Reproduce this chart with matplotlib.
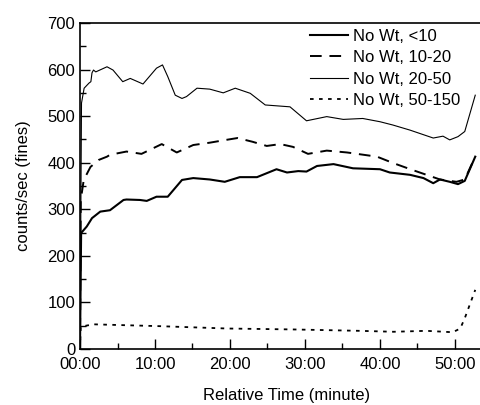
import matplotlib.pyplot as plt
from matplotlib.ticker import MultipleLocator, FuncFormatter

plt.rcParams["font.family"] = ["Liberation Sans", "DejaVu Sans"]

# time in minutes, counts/sec
t_lt10 = [0, 0.15, 0.9, 1.6, 2.7, 4.0, 5.8, 6.2, 8.0, 8.9, 10.2, 11.7, 13.6, 15.1, 17.3,
          19.3, 21.3, 23.6, 26.2, 27.6, 29.1, 30.2, 31.6, 33.8, 36.4, 40.0, 41.3, 44.0,
          45.8, 47.1, 48.0, 49.3, 50.4, 51.3, 52.7]
v_lt10 = [0, 249, 263, 281, 295, 298, 320, 321, 320, 318, 327, 327, 363, 367, 364,
          359, 369, 369, 386, 379, 382, 381, 393, 397, 388, 386, 379, 374,
          367, 356, 364, 359, 354, 361, 413]

t_10_20 = [0, 0.1, 0.5, 1.4, 2.5, 3.6, 4.0, 6.2, 8.2, 10.9, 12.9, 15.1, 17.3, 19.1, 21.0,
           23.0, 24.9, 26.7, 28.4, 30.4, 32.9, 35.6, 39.6, 41.8, 44.4, 46.2, 48.0, 50.2,
           51.3, 52.7]
v_10_20 = [0, 320, 363, 391, 406, 413, 417, 424, 419, 440, 422, 438, 443, 448, 453,
           445, 436, 440, 434, 419, 426, 422, 413, 399, 384, 374, 364, 359,
           364, 413]

t_20_50 = [0, 0.2, 0.55, 1.2, 1.45, 1.6, 1.8, 2.1, 3.6, 4.4, 5.7, 6.7, 8.4, 10.2, 11.0,
           11.7, 12.7, 13.6, 14.2, 15.6, 17.3, 19.1, 20.7, 22.7, 24.7, 28.0, 30.2, 32.9,
           35.1, 37.7, 40.0, 41.7, 44.0, 47.1, 48.4, 49.3, 50.4, 51.3, 52.7]
v_20_50 = [0, 528, 560, 571, 574, 593, 599, 595, 606, 599, 574, 581, 569, 603, 610,
           585, 545, 538, 542, 560, 558, 550, 560, 549, 524, 520, 490, 499,
           493, 495, 488, 481, 470, 453, 457, 449, 456, 467, 545]

t_50_150 = [0, 0.1, 1.8, 10.7, 19.6, 28.4, 37.3, 41.8, 46.2, 49.7, 50.7, 51.3, 52.7]
v_50_150 = [0, 48, 53, 49, 44, 42, 39, 37, 39, 36, 44, 66, 127]

fig = plt.figure(figsize=(4.81, 4.05), dpi=100)
ax = fig.add_axes([80 / 481, 56 / 405, 412.5 / 481, 326 / 405])

ax.plot(t_lt10, v_lt10, color="black", lw=1.5, label="No Wt, <10")
ax.plot(t_10_20, v_10_20, color="black", lw=1.4, dashes=(6, 4), label="No Wt, 10-20")
ax.plot(t_20_50, v_20_50, color="black", lw=0.8, label="No Wt, 20-50")
ax.plot(t_50_150, v_50_150, color="black", lw=1.3, dashes=(2, 3), label="No Wt, 50-150")

ax.set_xlim(0, 55)
ax.set_ylim(0, 700)
ax.xaxis.set_major_locator(MultipleLocator(10))
ax.xaxis.set_minor_locator(MultipleLocator(5))
ax.yaxis.set_major_locator(MultipleLocator(100))
ax.yaxis.set_minor_locator(MultipleLocator(50))
ax.xaxis.set_major_formatter(FuncFormatter(lambda v, p: f"{int(v):02d}:00"))
ax.tick_params(which="both", direction="in", top=False, right=False, labelsize=12)
ax.tick_params(which="major", length=7, width=1)
ax.tick_params(which="minor", length=4, width=1)
ax.tick_params(axis="x", pad=6)
for s in ax.spines.values():
    s.set_linewidth(1.2)

ax.set_xlabel("Relative Time (minute)", fontsize=12, labelpad=11)
ax.set_ylabel("counts/sec (fines)", fontsize=12, labelpad=12)

ax.legend(loc="upper left", bbox_to_anchor=(310 / 481, 376 / 405),
          bbox_transform=fig.transFigure, frameon=False, fontsize=12,
          borderpad=0, borderaxespad=0, handlelength=2.3, handletextpad=0.3,
          labelspacing=0.38)

fig.savefig("out.png", dpi=100)
